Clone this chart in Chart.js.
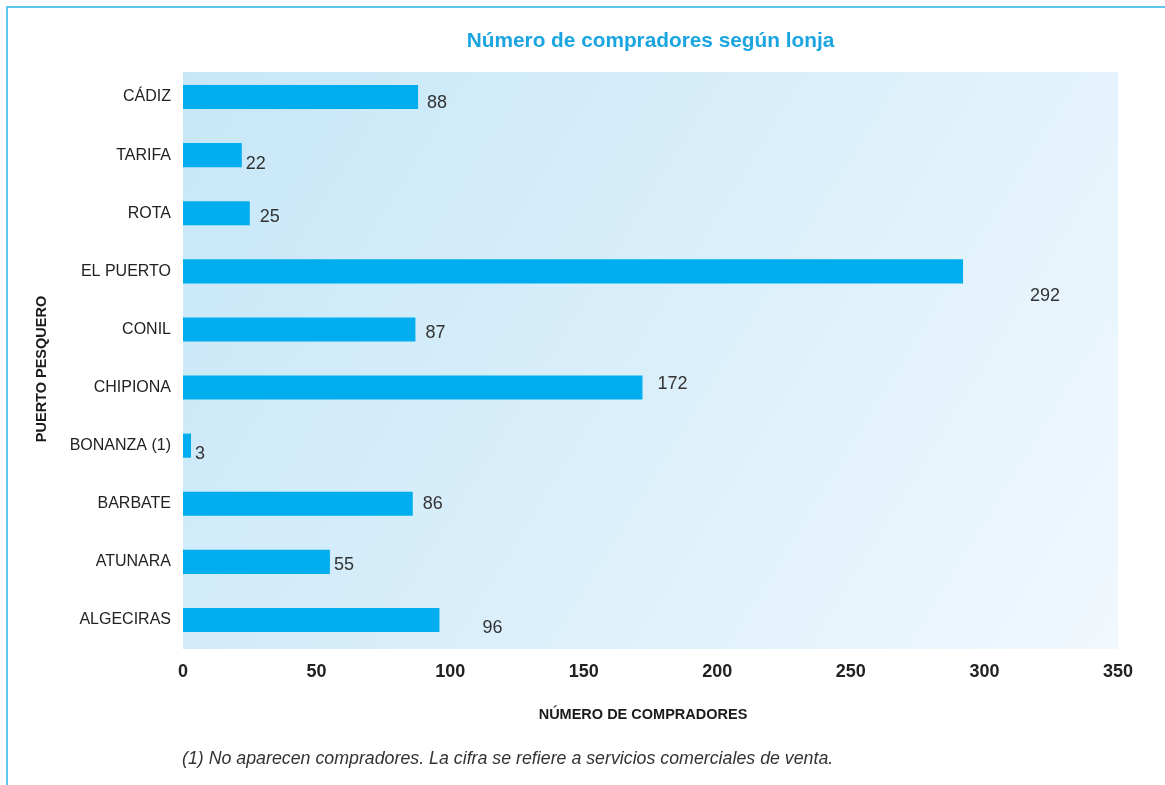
<!DOCTYPE html>
<html>
<head>
<meta charset="utf-8">
<script src="https://cdn.jsdelivr.net/npm/chart.js@4.4.1/dist/chart.umd.min.js"></script>
<style>
  html, body { margin: 0; padding: 0; background: #ffffff; }
  #wrap { position: relative; width: 1165px; height: 785px; }
  canvas { display: block; }
</style>
</head>
<body>
<div id="wrap"><canvas id="c" width="1165" height="785"></canvas></div>
<script>
// ---- Data ----
const categories = ['CÁDIZ', 'TARIFA', 'ROTA', 'EL PUERTO', 'CONIL', 'CHIPIONA', 'BONANZA (1)', 'BARBATE', 'ATUNARA', 'ALGECIRAS'];
const buyers = [88, 22, 25, 292, 87, 172, 3, 86, 55, 96];
const xTicks = [0, 50, 100, 150, 200, 250, 300, 350];
const chartTitle = 'Número de compradores según lonja';
const xTitle = 'NÚMERO DE COMPRADORES';
const yTitle = 'PUERTO PESQUERO';
const footnote = '(1) No aparecen compradores. La cifra se refiere a servicios comerciales de venta.';

// label placement tweaks (style, not data)
const labelShift = [[9,6],[4,9],[10,4],[67,25],[10,4],[15,-4],[4,8],[10,0],[4,3],[43,8]];

const FONT = "'Liberation Sans', Arial, sans-serif";

const decor = {
  id: 'decor',
  beforeDraw(chart) {
    const ctx = chart.ctx, a = chart.chartArea;
    ctx.save();
    // frame lines
    ctx.strokeStyle = '#5cc6ef';
    ctx.lineWidth = 2;
    ctx.beginPath();
    ctx.moveTo(7, 785); ctx.lineTo(7, 7); ctx.lineTo(1165, 7);
    ctx.stroke();
    // plot background gradient
    const top = 72;
    const g = ctx.createLinearGradient(a.left, top, a.right, a.bottom);
    g.addColorStop(0, '#c7e7f8');
    g.addColorStop(0.5, '#daeffa');
    g.addColorStop(1, '#f1f8fe');
    ctx.fillStyle = g;
    ctx.fillRect(a.left, top, a.right - a.left, a.bottom - top);
    ctx.restore();
  },
  afterDraw(chart) {
    const ctx = chart.ctx, a = chart.chartArea;
    ctx.save();
    // title
    ctx.fillStyle = '#1aa5e0';
    ctx.font = "bold 20.8px " + FONT;
    ctx.textAlign = 'center';
    ctx.textBaseline = 'middle';
    ctx.fillText(chartTitle, (a.left + a.right) / 2, 41);
    // x title
    ctx.fillStyle = '#1a1a1a';
    ctx.font = "bold 14.5px " + FONT;
    ctx.fillText(xTitle, 643, 715);
    // y title
    ctx.save();
    ctx.translate(42, 369);
    ctx.rotate(-Math.PI / 2);
    ctx.fillText(yTitle, 0, 0);
    ctx.restore();
    // footnote
    ctx.fillStyle = '#333333';
    ctx.font = "italic 17.8px " + FONT;
    ctx.textAlign = 'left';
    ctx.fillText(footnote, 182, 759);
    ctx.restore();
  },
  afterDatasetsDraw(chart) {
    const ctx = chart.ctx;
    const meta = chart.getDatasetMeta(0);
    ctx.save();
    ctx.fillStyle = '#333333';
    ctx.font = "18px " + FONT;
    ctx.textAlign = 'left';
    ctx.textBaseline = 'middle';
    meta.data.forEach((bar, i) => {
      const s = labelShift[i] || [8, 0];
      ctx.fillText(String(buyers[i]), bar.x + s[0], bar.y + s[1]);
    });
    ctx.restore();
  }
};

new Chart(document.getElementById('c'), {
  type: 'bar',
  data: {
    labels: categories,
    datasets: [{
      data: buyers,
      backgroundColor: '#00aeef',
      borderWidth: 0,
      barPercentage: 0.415,
      categoryPercentage: 1.0
    }]
  },
  options: {
    indexAxis: 'y',
    responsive: false,
    animation: false,
    devicePixelRatio: 1,
    layout: { padding: { left: 0, right: 47, top: 68, bottom: 0 } },
    plugins: { legend: { display: false }, title: { display: false }, tooltip: { enabled: false } },
    scales: {
      x: {
        min: 0, max: 350,
        afterBuildTicks(scale) { scale.ticks = xTicks.map(v => ({ value: v })); },
        afterFit(scale) { scale.height = 136; },
        grid: { display: false, drawTicks: false },
        border: { display: false },
        ticks: { color: '#222222', font: { family: FONT, size: 18, weight: 'bold' }, padding: 12 }
      },
      y: {
        afterFit(scale) { scale.width = 183; },
        grid: { display: false, drawTicks: false },
        border: { display: false },
        ticks: { color: '#222222', font: { family: FONT, size: 16 }, padding: 12 }
      }
    }
  },
  plugins: [decor]
});
</script>
</body>
</html>
